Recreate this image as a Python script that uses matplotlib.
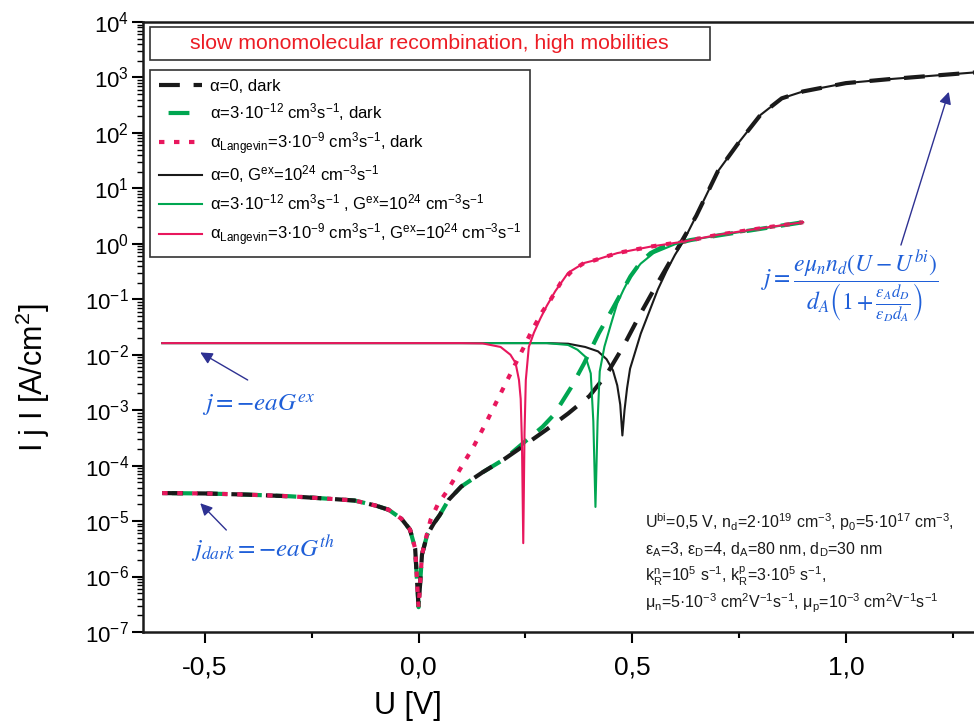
import numpy as np
import matplotlib
matplotlib.use("Agg")
import matplotlib.pyplot as plt
from matplotlib.patches import Rectangle
from matplotlib.ticker import FixedLocator, FuncFormatter, LogLocator, NullFormatter

# ---- data ----
# alpha = 0, dark
U_a0_dark = [-0.6, -0.5, -0.4, -0.3, -0.2, -0.15, -0.1, -0.07, -0.04, -0.02, -0.008, 0.0,
             0.008, 0.02, 0.035, 0.05, 0.07, 0.1, 0.15, 0.2, 0.25, 0.3, 0.35, 0.4, 0.44,
             0.48, 0.52, 0.56, 0.6, 0.65, 0.7, 0.75, 0.8, 0.85, 0.9, 1.0, 1.1, 1.2, 1.3]
J_a0_dark = [3.2e-5, 3.15e-5, 3.0e-5, 2.8e-5, 2.5e-5, 2.35e-5, 1.9e-5, 1.6e-5, 1.1e-5, 7.0e-6,
             3.2e-6, 2.8e-7, 2.5e-6, 5.6e-6, 8.9e-6, 1.3e-5, 2.4e-5, 4.2e-5, 7.6e-5, 1.3e-4,
             2.4e-4, 4.5e-4, 8.7e-4, 1.8e-3, 4.4e-3, 1.45e-2, 5.6e-2, 0.2, 0.68, 3.2, 20.0,
             68.0, 210.0, 420.0, 560.0, 790.0, 930.0, 1070.0, 1230.0]

# alpha = 3e-12, dark
U_a12_dark = [-0.6, -0.5, -0.4, -0.3, -0.2, -0.15, -0.1, -0.07, -0.04, -0.02, -0.008, 0.0,
              0.008, 0.02, 0.035, 0.05, 0.07, 0.1, 0.15, 0.2, 0.26, 0.29, 0.317, 0.356, 0.387,
              0.422, 0.457, 0.496, 0.52, 0.543, 0.57, 0.6, 0.637, 0.7, 0.8, 0.9]
J_a12_dark = [3.2e-5, 3.15e-5, 3.0e-5, 2.8e-5, 2.5e-5, 2.35e-5, 1.9e-5, 1.6e-5, 1.1e-5, 7.0e-6,
              3.2e-6, 2.8e-7, 2.5e-6, 5.6e-6, 8.9e-6, 1.3e-5, 2.4e-5, 4.2e-5, 7.6e-5, 1.3e-4,
              3.2e-4, 5.0e-4, 8.3e-4, 2.5e-3, 6.9e-3, 2.45e-2, 7.4e-2, 0.26, 0.47, 0.68, 0.87,
              1.0, 1.17, 1.41, 1.86, 2.45]

# alpha_Langevin, dark
U_lan_dark = [-0.6, -0.5, -0.4, -0.3, -0.2, -0.15, -0.1, -0.07, -0.04, -0.02, -0.008, 0.0,
              0.008, 0.02, 0.028, 0.045, 0.067, 0.098, 0.13, 0.161, 0.192, 0.223, 0.247, 0.266,
              0.29, 0.309, 0.333, 0.36, 0.387, 0.41, 0.465, 0.543, 0.621, 0.7, 0.8, 0.9]
J_lan_dark = [3.2e-5, 3.15e-5, 3.0e-5, 2.8e-5, 2.5e-5, 2.35e-5, 1.9e-5, 1.6e-5, 1.1e-5, 7.0e-6,
              3.2e-6, 2.8e-7, 2.5e-6, 6.0e-6, 1.05e-5, 2.0e-5, 3.5e-5, 8.9e-5, 2.3e-4, 6.6e-4,
              2.0e-3, 6.0e-3, 1.4e-2, 2.8e-2, 6.0e-2, 9.8e-2, 0.2, 0.33, 0.45, 0.5, 0.68, 0.89,
              1.1, 1.45, 1.9, 2.45]

# alpha = 0, G_ex = 1e24
U_a0_G = [-0.6, -0.4, -0.2, 0.0, 0.2, 0.3, 0.35, 0.39, 0.42, 0.44, 0.455, 0.465, 0.472, 0.477,
          0.482, 0.488, 0.495, 0.505, 0.52, 0.54, 0.56, 0.58, 0.6, 0.62, 0.65, 0.7, 0.75, 0.8,
          0.85, 0.9, 1.0, 1.1, 1.2, 1.3]
J_a0_G = [1.62e-2, 1.62e-2, 1.62e-2, 1.62e-2, 1.62e-2, 1.62e-2, 1.58e-2, 1.38e-2, 1.15e-2,
          8.3e-3, 5.2e-3, 2.8e-3, 1.26e-3, 3.5e-4, 1.0e-3, 2.5e-3, 5.6e-3, 1.0e-2, 2.4e-2,
          6.0e-2, 0.15, 0.32, 0.63, 1.12, 3.2, 20.0, 68.0, 210.0, 420.0, 560.0, 790.0, 930.0,
          1070.0, 1230.0]

# alpha = 3e-12, G_ex = 1e24
U_a12_G = [-0.6, -0.4, -0.2, 0.0, 0.2, 0.3, 0.35, 0.372, 0.391, 0.403, 0.409, 0.414, 0.419,
           0.424, 0.435, 0.45, 0.465, 0.48, 0.496, 0.52, 0.55, 0.6, 0.637, 0.7, 0.8, 0.9]
J_a12_G = [1.62e-2, 1.62e-2, 1.62e-2, 1.62e-2, 1.62e-2, 1.62e-2, 1.5e-2, 1.23e-2, 9.1e-3,
           4.6e-3, 6.3e-4, 1.8e-5, 6.3e-4, 5.0e-3, 1.4e-2, 3.5e-2, 8.5e-2, 0.15, 0.26, 0.44,
           0.68, 0.98, 1.17, 1.41, 1.86, 2.45]

# alpha_Langevin, G_ex = 1e24
U_lan_G = [-0.6, -0.4, -0.2, 0.0, 0.1, 0.15, 0.192, 0.215, 0.227, 0.235, 0.239, 0.242, 0.245,
           0.248, 0.251, 0.258, 0.27, 0.285, 0.3, 0.32, 0.35, 0.387, 0.41, 0.465, 0.543, 0.621,
           0.7, 0.8, 0.9]
J_lan_G = [1.62e-2, 1.62e-2, 1.62e-2, 1.62e-2, 1.62e-2, 1.6e-2, 1.38e-2, 1.0e-2, 7.1e-3,
           3.5e-3, 1.6e-3, 2.5e-4, 4.0e-6, 4.0e-4, 3.5e-3, 1.38e-2, 2.5e-2, 4.5e-2, 7.6e-2,
           0.14, 0.3, 0.45, 0.5, 0.68, 0.89, 1.1, 1.45, 1.9, 2.45]

labels = [
    r"α=0, dark",
    r"α=3·10$^{-12}$ cm$^{3}$s$^{-1}$, dark",
    r"α$_{\rm Langevin}$=3·10$^{-9}$ cm$^{3}$s$^{-1}$, dark",
    r"α=0, G$^{\rm ex}$=10$^{24}$ cm$^{-3}$s$^{-1}$",
    r"α=3·10$^{-12}$ cm$^{3}$s$^{-1}$ , G$^{\rm ex}$=10$^{24}$ cm$^{-3}$s$^{-1}$",
    r"α$_{\rm Langevin}$=3·10$^{-9}$ cm$^{3}$s$^{-1}$, G$^{\rm ex}$=10$^{24}$ cm$^{-3}$s$^{-1}$",
]

params = [
    r"U$^{\rm bi}$=0,5 V, n$_{\rm d}$=2·10$^{19}$ cm$^{-3}$, p$_{0}$=5·10$^{17}$ cm$^{-3}$,",
    r"ε$_{\rm A}$=3, ε$_{\rm D}$=4, d$_{\rm A}$=80 nm, d$_{\rm D}$=30 nm",
    r"k$_{\rm R}^{\rm n}$=10$^{5}$ s$^{-1}$, k$_{\rm R}^{\rm p}$=3·10$^{5}$ s$^{-1}$,",
    r"μ$_{\rm n}$=5·10$^{-3}$ cm$^{2}$V$^{-1}$s$^{-1}$, μ$_{\rm p}$=10$^{-3}$ cm$^{2}$V$^{-1}$s$^{-1}$",
]

x_ticks = [-0.5, 0.0, 0.5, 1.0]
x_minor = [-0.25, 0.25, 0.75, 1.25]

BLACK = "#1a1a1a"
GREEN = "#00a651"
PINK = "#e8175d"
BLUE = "#1f5fd8"
NAVY = "#2e3192"

plt.rcParams["font.family"] = ["Liberation Sans", "DejaVu Sans"]
plt.rcParams["mathtext.fontset"] = "custom"
plt.rcParams["mathtext.rm"] = "Liberation Sans"
plt.rcParams["mathtext.it"] = "Liberation Sans:italic"
plt.rcParams["mathtext.bf"] = "Liberation Sans:bold"
plt.rcParams["axes.unicode_minus"] = False

fig = plt.figure(figsize=(9.74, 7.27), dpi=100)
ax = fig.add_axes([143 / 974, 1 - 632 / 727, 831 / 974, 610 / 727])

ax.plot(U_a0_dark, J_a0_dark, color=BLACK, lw=3, ls=(0, (5, 3.3)), label=labels[0], zorder=4)
ax.plot(U_a12_dark, J_a12_dark, color=GREEN, lw=3, ls=(6, (5, 3.3)), label=labels[1], zorder=3)
ax.plot(U_lan_dark, J_lan_dark, color=PINK, lw=3, ls=(0, (1.3, 2.3)), label=labels[2], zorder=5)
ax.plot(U_a0_G, J_a0_G, color=BLACK, lw=1.5, label=labels[3], zorder=6)
ax.plot(U_a12_G, J_a12_G, color=GREEN, lw=1.5, label=labels[4], zorder=6)
ax.plot(U_lan_G, J_lan_G, color=PINK, lw=1.5, label=labels[5], zorder=6)

ax.set_yscale("log")
ax.set_ylim(1e-7, 1e4)
ax.set_xlim(-0.645, 1.3)
ax.yaxis.set_major_locator(LogLocator(base=10, numticks=20))
ax.yaxis.set_major_formatter(FuncFormatter(lambda v, p: "10$^{%d}$" % round(np.log10(v))))
ax.yaxis.set_minor_locator(LogLocator(base=10, subs=np.arange(2, 10), numticks=20))
ax.yaxis.set_minor_formatter(NullFormatter())
ax.xaxis.set_major_locator(FixedLocator(x_ticks))
ax.xaxis.set_minor_locator(FixedLocator(x_minor))
ax.xaxis.set_major_formatter(FuncFormatter(lambda v, p: f"{v:.1f}".replace(".", ",")))

for s in ["left", "bottom", "top"]:
    ax.spines[s].set_linewidth(1.8)
    ax.spines[s].set_color(BLACK)
ax.spines["right"].set_visible(False)

ax.tick_params(axis="y", which="major", direction="out", length=8, width=1.5, pad=2, labelsize=16)
ax.tick_params(axis="y", which="minor", direction="out", length=4, width=1)
ax.tick_params(axis="x", which="major", direction="out", length=8, width=1.5, pad=9, labelsize=19)
ax.tick_params(axis="x", which="minor", direction="out", length=4.5, width=1.5)

fig.text(33 / 974, 1 - 378 / 727, "I j I [A/cm$^{2}$]", rotation=90, ha="center", va="center",
         fontsize=22)
fig.text(408 / 974, 1 - 706 / 727, "U [V]", ha="center", va="center", fontsize=22)

# title box
ax.add_patch(Rectangle((0.0084, 0.9377), 0.6735, 0.0541, transform=ax.transAxes,
                       facecolor="white", edgecolor="#333333", lw=1.2, zorder=8))
ax.text(0.345, 0.9648, "slow monomolecular recombination, high mobilities", transform=ax.transAxes,
        ha="center", va="center", color="#ec1c24", fontsize=15.3, zorder=9)

leg = ax.legend(loc="upper left", bbox_to_anchor=(0.0084, 0.9213), borderaxespad=0,
                fontsize=12, handlelength=2.6, handletextpad=0.45, labelspacing=0.42,
                borderpad=0.55, fancybox=False, framealpha=1, edgecolor="#333333")
leg.get_frame().set_linewidth(1.2)
leg.set_zorder(10)

# annotations
arrow = dict(arrowstyle="-|>", color=NAVY, lw=1, mutation_scale=18, shrinkA=0, shrinkB=0)
ax.annotate("", xy=(-0.511, 1.1e-2), xytext=(-0.40, 3.5e-3), arrowprops=arrow)
ax.text(-0.375, 1.2e-3, r"$j=-eaG^{ex}$", ha="center", va="center", color=BLUE, fontsize=18,
        math_fontfamily="stix")
ax.annotate("", xy=(-0.511, 2.1e-5), xytext=(-0.45, 6.9e-6), arrowprops=arrow)
ax.text(-0.365, 3.2e-6, r"$j_{dark}=-eaG^{th}$", ha="center", va="center", color=BLUE, fontsize=18,
        math_fontfamily="stix")
ax.annotate("", xy=(1.241, 550), xytext=(1.129, 0.95), arrowprops=arrow)
ax.text(1.01, 0.17, r"$j=\dfrac{e\mu_n n_d(U-U^{bi})}{d_A\left(1+\frac{\varepsilon_A d_D}{\varepsilon_D d_A}\right)}$",
        ha="center", va="center", color=BLUE, fontsize=17, math_fontfamily="stix")

for i, line in enumerate(params):
    ax.text(0.604, 0.180 - i * 0.0445, line, transform=ax.transAxes, ha="left", va="center",
            fontsize=11.5, color=BLACK)

fig.savefig("out.png", dpi=100)
